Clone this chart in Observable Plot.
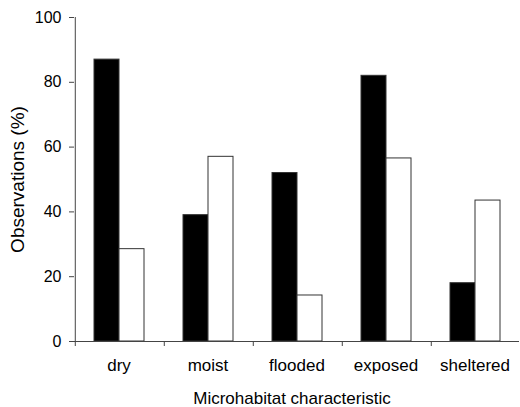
<!DOCTYPE html>
<html><head><meta charset="utf-8">
<script src="https://cdn.jsdelivr.net/npm/d3@7"></script>
<script src="https://cdn.jsdelivr.net/npm/@observablehq/plot@0.6"></script>
<style>body{margin:0;background:#fff}</style>
</head><body><div id="chart"></div>
<script>
const categories = ["dry", "moist", "flooded", "exposed", "sheltered"];
const seriesNames = ["filled", "open"];
const filledValues = [87, 39, 52, 82, 18];
const openValues = [28.5, 57, 14.2, 56.5, 43.5];
const yTicks = [0, 20, 40, 60, 80, 100];
const xLabel = "Microhabitat characteristic";
const yLabel = "Observations (%)";

const table = [];
categories.forEach((c, i) => {
  table.push({category: c, series: seriesNames[0], value: filledValues[i]});
  table.push({category: c, series: seriesNames[1], value: openValues[i]});
});

const W = 520, H = 407, ML = 73, MR = 0, MT = 17, MB = 66;
const step = (W - ML - MR) / categories.length;
const padOuter = 0.72;
const innerStep = step / (2 + 2 * padOuter);
const edgeDx = -innerStep * (0.5 + padOuter);

const chart = Plot.plot({
  width: W, height: H,
  marginLeft: ML, marginRight: MR, marginTop: MT, marginBottom: MB,
  style: {fontFamily: "'Liberation Sans', Arial, sans-serif", fontSize: "16px", color: "#000", background: "#fff"},
  fx: {domain: categories, padding: 0, axis: null},
  x: {domain: seriesNames, paddingInner: 0, paddingOuter: padOuter, axis: null},
  y: {domain: [0, 100]},
  color: {domain: seriesNames, range: ["#000", "#fff"]},
  marks: [
    Plot.barY(table, {fx: "category", x: "series", y: "value", fill: "series", stroke: "#333", strokeWidth: 1}),
    Plot.ruleY([0], {stroke: "#444"}),
    // y axis line (left edge of first facet)
    Plot.ruleX([seriesNames[0]], {fx: () => categories[0], x: d => d, y1: 0, y2: 100, dx: edgeDx, stroke: "#444"}),
    // x ticks at category boundaries
    Plot.ruleX(categories, {fx: d => d, x: () => seriesNames[0], y1: 0, y2: 0, insetBottom: -5, dx: edgeDx, stroke: "#444"}),
    Plot.axisY({ticks: yTicks, tickSize: 5, tickPadding: 8, stroke: "#444", fontSize: 16, label: null}),
    Plot.axisY({ticks: [], tickSize: 0, fontSize: 19, label: yLabel, labelAnchor: "center", labelArrow: "none", labelOffset: 64}),
    Plot.axisFx({anchor: "bottom", tickSize: 0, tickPadding: 17, fontSize: 17, label: null}),
    Plot.text([xLabel], {text: d => d, fx: () => categories[2], frameAnchor: "bottom", dy: 57, dx: -5, fontSize: 17, lineAnchor: "middle"})
  ]
});
document.getElementById("chart").appendChild(chart);
</script>
</body></html>
